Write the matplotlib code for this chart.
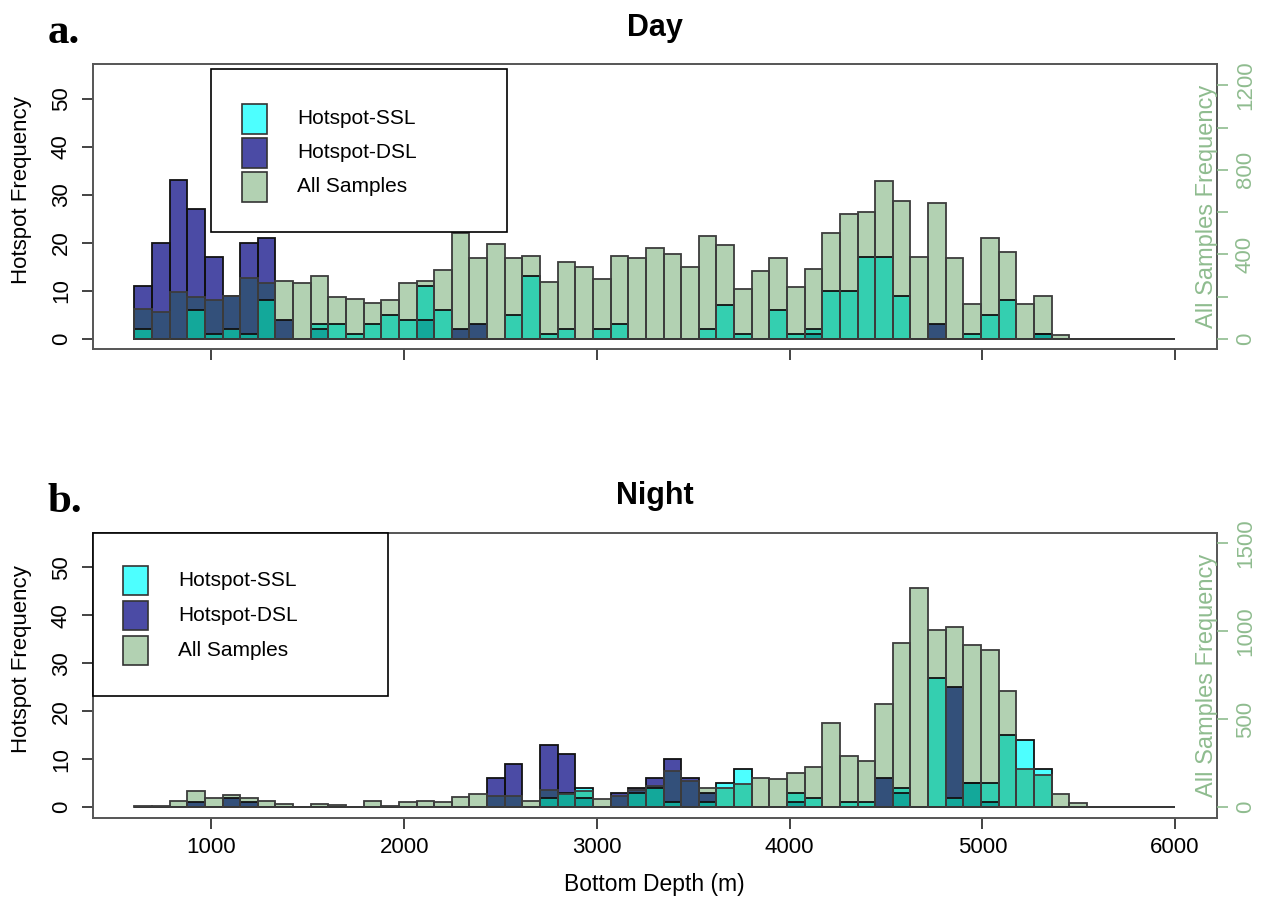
import numpy as np
import matplotlib
matplotlib.use("Agg")
import matplotlib.pyplot as plt
from matplotlib.patches import Rectangle

plt.rcParams['font.family'] = ['Liberation Sans', 'DejaVu Sans']

# 59 equal bins between 600 and 6000 m
EDGES = np.linspace(600, 6000, 60)

DAY_ALL = [140, 126, 223, 196, 185, 202, 289, 265, 272, 265,
           295, 197, 188, 167, 185, 265, 273, 325, 500, 384,
           450, 384, 393, 267, 365, 340, 281, 393, 384, 430,
           401, 340, 488, 444, 235, 321, 384, 245, 330, 502,
           591, 600, 749, 651, 389, 645, 384, 166, 477, 409,
           166, 202, 19, 0, 0, 0, 0, 0, 0]
DAY_SSL = [2, 0, 0, 6, 1, 2, 1, 8, 0, 0,
           3, 3, 1, 3, 5, 4, 11, 6, 0, 0,
           0, 5, 13, 1, 2, 0, 2, 3, 0, 0,
           0, 0, 2, 7, 1, 0, 6, 1, 2, 10,
           10, 17, 17, 9, 0, 0, 0, 1, 5, 8,
           0, 1, 0, 0, 0, 0, 0, 0, 0]
DAY_DSL = [11, 20, 33, 27, 17, 9, 20, 21, 4, 0,
           2, 0, 0, 0, 0, 0, 4, 0, 2, 3,
           0, 0, 0, 0, 0, 0, 0, 0, 0, 0,
           0, 0, 0, 0, 0, 0, 0, 0, 1, 0,
           0, 0, 0, 0, 0, 3, 0, 0, 0, 0,
           0, 1, 0, 0, 0, 0, 0, 0, 0]

NIGHT_ALL = [5, 5, 36, 89, 53, 70, 53, 36, 17, 0,
             17, 11, 0, 36, 6, 28, 36, 28, 59, 76,
             65, 65, 34, 99, 76, 91, 47, 65, 100, 120,
             203, 150, 108, 108, 131, 167, 161, 195, 230, 480,
             290, 262, 586, 935, 1245, 1006, 1025, 924, 896, 658,
             214, 184, 76, 23, 0, 0, 0, 0, 0]
NIGHT_SSL = [0, 0, 0, 0, 0, 0, 0, 0, 0, 0,
             0, 0, 0, 0, 0, 0, 0, 0, 0, 0,
             0, 0, 0, 2, 3, 4, 0, 0, 3, 4,
             1, 0, 1, 5, 8, 0, 0, 3, 2, 0,
             1, 1, 0, 4, 0, 27, 2, 5, 5, 15,
             14, 8, 0, 0, 0, 0, 0, 0, 0]
NIGHT_DSL = [0, 0, 0, 1, 0, 2, 1, 0, 0, 0,
             0, 0, 0, 0, 0, 0, 0, 0, 0, 0,
             6, 9, 0, 13, 11, 2, 0, 3, 4, 6,
             10, 6, 3, 0, 0, 0, 0, 1, 0, 0,
             0, 0, 6, 3, 0, 0, 25, 5, 1, 0,
             0, 0, 0, 0, 0, 0, 0, 0, 0]

LABELS = ['Hotspot-SSL', 'Hotspot-DSL', 'All Samples']

# fill colour for each overlap of (ssl, dsl, all samples)
FILLS = {(1, 0, 0): '#4DFFFF', (0, 1, 0): '#4B4BA5', (0, 0, 1): '#B2D1B2',
         (1, 0, 1): '#34CFB0', (0, 1, 1): '#33507A', (1, 1, 1): '#13A89A',
         (1, 1, 0): '#2B7FB0'}
GREEN = '#8FBC8F'
FRAME = '#555555'
W, H = 1262, 900
LEFT_LIM = (-2.2, 57.2)


def px_rect(x0, y0, x1, y1):
    return [x0 / W, 1 - y1 / H, (x1 - x0) / W, (y1 - y0) / H]


def draw_panel(ax, ssl, dsl, allg, right_lim, right_ticks, right_labels, title):
    lefts, widths = EDGES[:-1], np.diff(EDGES)
    k = (LEFT_LIM[1] - LEFT_LIM[0]) / (right_lim[1] - right_lim[0])
    g_left = np.array(allg) * k

    # overlap-coloured fills (in left-axis units)
    for i in range(len(lefts)):
        s, d, g = ssl[i], dsl[i], g_left[i]
        levels = sorted({0, s, d, g})
        for lo, hi in zip(levels[:-1], levels[1:]):
            key = (int(s >= hi), int(d >= hi), int(g >= hi))
            ax.bar(lefts[i], hi - lo, widths[i], bottom=lo, align='edge',
                   color=FILLS[key], linewidth=0, zorder=1)

    ax2 = ax.twinx()
    ax2.bar(lefts, allg, widths, align='edge', fill=False,
            edgecolor='#3c3c3c', linewidth=1.3, zorder=2)
    ax.bar(lefts, ssl, widths, align='edge', fill=False,
           edgecolor='#111111', linewidth=1.3, zorder=3)
    ax.bar(lefts, dsl, widths, align='edge', fill=False,
           edgecolor='#111111', linewidth=1.3, zorder=3)

    ax.set_xlim(384, 6216)
    ax.set_ylim(*LEFT_LIM)
    ax.set_xticks(range(1000, 6001, 1000))
    ax.set_yticks(range(0, 51, 10))
    ax.tick_params(direction='out', length=8, width=1.2, labelsize=16,
                   color='#222222')
    ax.tick_params(axis='y', pad=7)
    ax.tick_params(axis='x', pad=6)
    for lab in ax.get_yticklabels():
        lab.set_rotation(90)
        lab.set_va('center')
    for sp in ax.spines.values():
        sp.set_color(FRAME)
        sp.set_linewidth(1.4)
    ax.set_ylabel('Hotspot Frequency', fontsize=16)
    ax.yaxis.set_label_coords(-0.063, 0.557)
    ax.yaxis.label.set_va('center')

    ax2.set_ylim(*right_lim)
    ax2.set_yticks(right_ticks)
    ax2.set_yticklabels(right_labels)
    ax2.tick_params(direction='out', length=8, width=1.2, labelsize=16,
                    color=GREEN, labelcolor=GREEN, pad=5)
    for lab in ax2.get_yticklabels():
        lab.set_rotation(90)
        lab.set_va('center')
    for sp in ax2.spines.values():
        sp.set_visible(False)
    ax2.set_ylabel('All Samples Frequency', fontsize=17, color=GREEN)
    ax2.yaxis.set_label_coords(0.9914, 0.5)
    ax2.yaxis.label.set_ha('center')
    ax2.yaxis.label.set_va('center')

    ax.set_title(title, fontsize=22, fontweight='bold', y=1.099, pad=0)
    return ax2


def draw_legend(fig, box, sq_x, text_x, rows_y):
    x0, y0, x1, y1 = box
    fig.patches.append(Rectangle((x0 / W, 1 - y1 / H), (x1 - x0) / W, (y1 - y0) / H,
                                 transform=fig.transFigure, facecolor='white',
                                 edgecolor='black', linewidth=1.2, zorder=5))
    keys = [(1, 0, 0), (0, 1, 0), (0, 0, 1)]
    for lab, key, ry in zip(LABELS, keys, rows_y):
        fig.patches.append(Rectangle((sq_x / W, 1 - (ry + 14.5) / H), 25 / W, 29 / H,
                                     transform=fig.transFigure, facecolor=FILLS[key],
                                     edgecolor='#333333', linewidth=1.2, zorder=6))
        fig.text(text_x / W, 1 - ry / H, lab, fontsize=15, va='center', ha='left',
                 zorder=7)


fig = plt.figure(figsize=(12.62, 9), dpi=100)
ax_day = fig.add_axes(px_rect(92.7, 64.3, 1216.7, 349.3))
ax_night = fig.add_axes(px_rect(92.7, 532.7, 1216.7, 817.7))

draw_panel(ax_day, DAY_SSL, DAY_DSL, DAY_ALL, (-50, 1300),
           list(range(0, 1201, 200)), ['0', '', '400', '', '800', '', '1200'], 'Day')
draw_panel(ax_night, NIGHT_SSL, NIGHT_DSL, NIGHT_ALL, (-60, 1560),
           [0, 500, 1000, 1500], ['0', '500', '1000', '1500'], 'Night')

ax_day.tick_params(axis='x', labelbottom=False)
ax_night.set_xlabel('Bottom Depth (m)', fontsize=16.5)
ax_night.xaxis.set_label_coords(0.5, -0.236)
ax_night.xaxis.label.set_va('center')

draw_legend(fig, (211, 69, 506.7, 232.3), 242, 297, [119, 153, 187])
draw_legend(fig, (92.7, 532.7, 388.3, 696), 123.3, 178.3, [580, 615.7, 650])

fig.text(48 / W, 1 - 43 / H, 'a.', family=['Liberation Serif', 'DejaVu Serif'],
         fontsize=31, fontweight='bold')
fig.text(48 / W, 1 - 512 / H, 'b.', family=['Liberation Serif', 'DejaVu Serif'],
         fontsize=31, fontweight='bold')

fig.savefig('out.png', dpi=100)
